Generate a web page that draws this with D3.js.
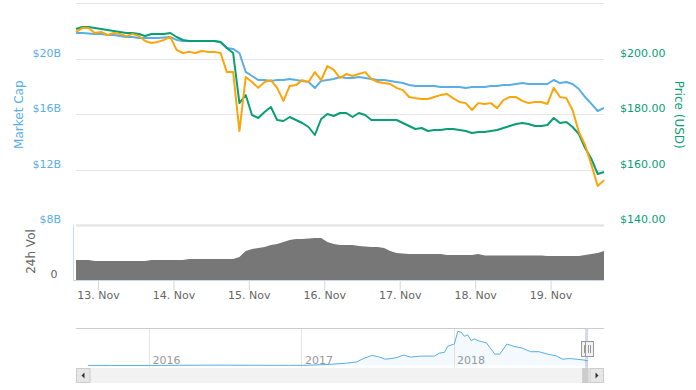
<!DOCTYPE html>
<html><head><meta charset="utf-8">
<script src="https://cdn.jsdelivr.net/npm/d3@7"></script>
<style>
html,body{margin:0;padding:0;background:#fff;}
svg{display:block;font-family:"DejaVu Sans",Verdana,sans-serif;}
</style>
</head><body>
<svg id="chart" width="696" height="390"></svg>
<script>
// ---------------- data ----------------
const startTime = "2018-11-12T17:00:00Z";
const stepHours = 2;
const marketCapB = [21.86,21.86,21.83,21.79,21.79,21.72,21.72,21.65,21.57,21.57,
 21.50,21.50,21.50,21.50,21.54,21.57,21.36,21.29,21.29,21.29,
 21.29,21.29,21.29,21.21,20.78,20.71,20.42,19.05,18.76,18.47,
 18.47,18.40,18.47,18.47,18.54,18.47,18.40,18.32,17.89,18.40,
 18.47,18.54,18.69,18.61,18.61,18.69,18.61,18.54,18.47,18.47,
 18.40,18.32,18.25,18.11,18.04,18.04,18.04,18.04,17.96,17.96,
 17.96,17.96,17.89,17.96,17.96,17.96,18.04,18.04,18.11,18.11,
 18.18,18.25,18.18,18.18,18.18,18.18,18.47,18.25,18.32,18.18,
 17.82,17.24,16.74,16.23,16.45];
const priceUSD = [210.76,211.48,211.48,211.12,210.76,210.40,210.04,209.68,209.31,209.31,
 208.95,208.23,208.95,208.95,208.95,209.31,207.87,206.79,206.43,206.43,
 206.43,206.43,206.43,206.06,203.90,202.09,184.04,186.93,179.71,178.63,
 180.79,182.60,177.91,177.55,178.99,177.91,176.82,175.38,172.49,178.27,
 180.07,179.35,180.43,180.43,178.99,180.43,179.71,177.91,177.91,177.91,
 177.91,177.91,176.82,175.74,174.66,175.02,173.94,174.30,174.30,174.66,
 174.66,174.30,173.94,173.21,173.57,173.57,173.94,174.30,175.02,175.74,
 176.46,176.82,176.46,175.74,175.74,176.10,178.63,176.82,177.18,175.38,
 172.85,167.80,163.83,158.41,159.13];
const priceBTC = [0.03297,0.03311,0.03311,0.03293,0.03297,0.03286,0.03293,0.03290,0.03282,0.03290,
 0.03282,0.03264,0.03257,0.03261,0.03268,0.03279,0.03232,0.03221,0.03225,0.03221,
 0.03228,0.03225,0.03225,0.03221,0.03152,0.03152,0.02939,0.03134,0.03116,0.03095,
 0.03116,0.03123,0.03095,0.03048,0.03102,0.03105,0.03123,0.03116,0.03152,0.03123,
 0.03174,0.03160,0.03131,0.03145,0.03138,0.03145,0.03152,0.03127,0.03116,0.03113,
 0.03109,0.03095,0.03087,0.03062,0.03058,0.03055,0.03055,0.03062,0.03069,0.03073,
 0.03058,0.03044,0.03040,0.03015,0.03040,0.03037,0.03040,0.03022,0.03051,0.03062,
 0.03062,0.03048,0.03040,0.03044,0.03044,0.03037,0.03095,0.03062,0.03058,0.03015,
 0.02936,0.02889,0.02817,0.02741,0.02762];
const volume24hB = [1.15,1.15,1.15,1.10,1.10,1.10,1.10,1.10,1.10,1.10,
 1.10,1.10,1.15,1.15,1.15,1.15,1.15,1.15,1.21,1.21,
 1.21,1.21,1.21,1.21,1.21,1.21,1.33,1.67,1.79,1.85,
 1.90,2.02,2.08,2.19,2.31,2.37,2.37,2.39,2.42,2.42,
 2.19,2.08,2.02,2.02,2.02,1.96,1.93,1.90,1.90,1.85,
 1.67,1.56,1.53,1.50,1.50,1.50,1.50,1.50,1.50,1.44,
 1.44,1.44,1.44,1.44,1.50,1.41,1.41,1.41,1.41,1.41,
 1.41,1.41,1.41,1.41,1.41,1.38,1.38,1.38,1.38,1.38,
 1.38,1.44,1.50,1.56,1.67];
const marketCapTicks = [8,12,16,20,24];
const marketCapLabels = [8,12,16,20];
const priceTicks = [140,160,180,200];
const volumeTicks = [0];
const navDates = ["2015-08-08","2015-10-01","2016-01-01","2016-03-15","2016-06-15","2016-09-01","2016-12-01",
 "2017-01-15","2017-03-09","2017-04-19","2017-05-14","2017-05-30","2017-06-19","2017-07-05","2017-07-21",
 "2017-08-06","2017-08-18","2017-09-03","2017-09-20","2017-10-14","2017-11-16","2017-11-28","2017-12-10",
 "2017-12-18","2017-12-26","2018-01-03","2018-01-11","2018-01-19","2018-01-27","2018-02-04","2018-02-12",
 "2018-02-20","2018-03-01","2018-03-09","2018-03-21","2018-04-10","2018-04-22","2018-05-09","2018-05-25",
 "2018-06-14","2018-07-05","2018-07-25","2018-08-14","2018-09-04","2018-09-20","2018-10-06","2018-10-22",
 "2018-11-10","2018-11-19"];
const navMarketCapB = [0.2,0.07,0.07,0.9,1.5,1.0,0.7,
 0.9,4.5,9.2,14.4,28,40.4,34.8,25.2,
 28,32,41.6,33.6,37.6,37.6,49.6,52.4,
 76.8,82,86,136,133.6,117,122.8,99.6,
 106.4,99.6,95.6,90.4,45.6,45.6,86,76.8,
 70,55.2,55.2,45.6,38.8,25.2,28,25.2,
 22,18.7];
const navYearTicks = ["2016-01-01","2017-01-01","2018-01-01"];

// ---------------- setup ----------------
const C_BLUE = "#5aaee6", C_GREEN = "#0a9e73", C_ORANGE = "#fca50a";
const svg = d3.select("#chart");
const t0 = new Date(startTime);
const times = marketCapB.map((_, i) => new Date(+t0 + i * stepHours * 3600e3));
const tEnd = times[times.length - 1];

const L = 76, R = 604;
const x = d3.scaleUtc().domain([t0, tEnd]).range([L, R]);
const yMC = d3.scaleLinear().domain([8, 24]).range([225, 3.4]);
const yUSD = d3.scaleLinear().domain([140, 220]).range([225, 3.4]);
const yBTC = d3.scaleLinear().domain([0.026, 0.034]).range([225, 3.4]);
const yVol = d3.scaleLinear().domain([0, 3]).range([280, 228]);

// gridlines
svg.append("g").selectAll("line").data(marketCapTicks.slice(1)).join("line")
  .attr("x1", L).attr("x2", R)
  .attr("y1", d => Math.round(yMC(d)) + 0.5).attr("y2", d => Math.round(yMC(d)) + 0.5)
  .attr("stroke", "#e6e6e6").attr("stroke-width", 1);
svg.append("line").attr("x1", L).attr("x2", R).attr("y1", 225.5).attr("y2", 225.5)
  .attr("stroke", "#e6e6e6").attr("stroke-width", 2.5);

// left axis (market cap)
const axL = svg.append("g").attr("transform", `translate(${L},0)`)
  .call(d3.axisLeft(yMC).tickValues(marketCapLabels).tickSize(0).tickPadding(15).tickFormat(d => "$" + d + "B"));
axL.select(".domain").remove();
axL.selectAll("text").attr("dy", -2.6).attr("fill", C_BLUE).attr("font-size", 11).attr("font-family", "DejaVu Sans");

// right axis (price)
const axR = svg.append("g").attr("transform", `translate(${R},0)`)
  .call(d3.axisRight(yUSD).tickValues(priceTicks).tickSize(0).tickPadding(16).tickFormat(d => "$" + d3.format(".2f")(d)));
axR.select(".domain").remove();
axR.selectAll("text").attr("dy", -2.6).attr("fill", C_GREEN).attr("font-size", 11).attr("font-family", "DejaVu Sans");

// axis titles
svg.append("text").attr("transform", "translate(23,114.7) rotate(-90)").attr("text-anchor", "middle")
  .attr("fill", C_BLUE).attr("font-size", 12).text("Market Cap");
svg.append("text").attr("transform", "translate(675,114.7) rotate(90)").attr("text-anchor", "middle")
  .attr("fill", C_GREEN).attr("font-size", 12).text("Price (USD)");
svg.append("text").attr("transform", "translate(35,251.5) rotate(-90)").attr("text-anchor", "middle")
  .attr("fill", "#666").attr("font-size", 12).text("24h Vol");

// volume pane
svg.append("path").datum(volume24hB)
  .attr("d", d3.area().x((d, i) => x(times[i])).y0(yVol(0)).y1(d => yVol(d)))
  .attr("fill", "#777777");
svg.append("line").attr("x1", 73.5).attr("x2", 73.5).attr("y1", 225).attr("y2", 280)
  .attr("stroke", "#ccd6eb");
const axV = svg.append("g").attr("transform", "translate(73,0)")
  .call(d3.axisLeft(yVol).tickValues(volumeTicks).tickSize(0).tickPadding(15.5).tickFormat(d => d));
axV.select(".domain").remove();
axV.selectAll("text").attr("dy", -3).attr("fill", "#666").attr("font-size", 11).attr("font-family", "DejaVu Sans");

// x axis
svg.append("line").attr("x1", 73).attr("x2", R).attr("y1", 280.5).attr("y2", 280.5).attr("stroke", "#ccd6eb");
const axX = svg.append("g").attr("transform", "translate(0,280.5)")
  .call(d3.axisBottom(x).ticks(d3.utcDay.every(1)).tickSize(10).tickPadding(1).tickFormat(d3.utcFormat("%d. %b")));
axX.select(".domain").remove();
axX.selectAll("line").attr("stroke", "#ccd6eb");
axX.selectAll("text").attr("fill", "#666").attr("font-size", 11).attr("font-family", "DejaVu Sans");

// price lines
const mk = (scale) => d3.line().x((d, i) => x(times[i])).y(d => scale(d));
svg.append("path").datum(marketCapB).attr("d", mk(yMC)).attr("fill", "none")
  .attr("stroke", C_BLUE).attr("stroke-width", 2).attr("stroke-linejoin", "round");
svg.append("path").datum(priceUSD).attr("d", mk(yUSD)).attr("fill", "none")
  .attr("stroke", C_GREEN).attr("stroke-width", 2).attr("stroke-linejoin", "round");
svg.append("path").datum(priceBTC).attr("d", mk(yBTC)).attr("fill", "none")
  .attr("stroke", C_ORANGE).attr("stroke-width", 2).attr("stroke-linejoin", "round");

// ---------------- navigator ----------------
const navTop = 328, navBottom = 368;
const navX = d3.scaleUtc().domain([new Date("2015-07-10"), new Date("2018-12-28")]).range([L, R]);
const navY = d3.scaleLinear().domain([0, 150]).range([365.5, navTop]);
const nd = navDates.map(d => new Date(d));

svg.append("g").selectAll("line").data(navYearTicks.map(d => new Date(d))).join("line")
  .attr("x1", d => Math.round(navX(d)) + 0.5).attr("x2", d => Math.round(navX(d)) + 0.5)
  .attr("y1", navTop).attr("y2", navBottom).attr("stroke", "#e6e6e6");
svg.append("g").selectAll("text").data(navYearTicks.map(d => new Date(d))).join("text")
  .attr("x", d => navX(d) + 3.5).attr("y", 364).attr("fill", "#999").attr("font-size", 11)
  .text(d3.utcFormat("%Y"));

svg.append("path").datum(navMarketCapB)
  .attr("d", d3.area().x((d, i) => navX(nd[i])).y0(navY(0)).y1(d => navY(d)))
  .attr("fill", "rgba(90,174,230,0.07)");
svg.append("path").datum(navMarketCapB)
  .attr("d", d3.line().x((d, i) => navX(nd[i])).y(d => navY(d)))
  .attr("fill", "none").attr("stroke", C_BLUE).attr("stroke-width", 1);

// mask over selected range
const mx0 = navX(t0), mx1 = navX(tEnd);
svg.append("rect").attr("x", mx0).attr("y", navTop).attr("width", Math.max(1, mx1 - mx0)).attr("height", navBottom - navTop)
  .attr("fill", "rgba(102,133,194,0.3)");
svg.append("line").attr("x1", L).attr("x2", R).attr("y1", navTop + 0.5).attr("y2", navTop + 0.5)
  .attr("stroke", "#cccccc");

// scrollbar
const sbY = 368, sbH = 15;
svg.append("rect").attr("x", L).attr("y", sbY).attr("width", R - L).attr("height", sbH).attr("fill", "#f2f2f2");
svg.append("rect").attr("x", mx0 - 3).attr("y", sbY).attr("width", 6.5).attr("height", sbH).attr("fill", "#cccccc");
svg.append("rect").attr("x", L + 0.5).attr("y", sbY + 0.5).attr("width", 13.5).attr("height", sbH - 1)
  .attr("fill", "#e6e6e6").attr("stroke", "#cccccc");
svg.append("rect").attr("x", R - 14).attr("y", sbY + 0.5).attr("width", 13.5).attr("height", sbH - 1)
  .attr("fill", "#e6e6e6").attr("stroke", "#cccccc");
svg.append("path").attr("d", `M${L + 5.5},${sbY + 7.5} L${L + 8.5},${sbY + 4.5} L${L + 8.5},${sbY + 10.5} Z`).attr("fill", "#333");
svg.append("path").attr("d", `M${R - 5.5},${sbY + 7.5} L${R - 8.5},${sbY + 4.5} L${R - 8.5},${sbY + 10.5} Z`).attr("fill", "#333");

// handles
const hy = navTop + (navBottom - navTop - 15) / 2;
[[mx0 - 4.5], [mx1 - 3.5]].forEach(([hx]) => {
  const g = svg.append("g").attr("transform", `translate(${Math.round(hx) + 0.5},${Math.round(hy) + 0.5})`);
  g.append("rect").attr("width", 8).attr("height", 15).attr("fill", "#f2f2f2").attr("stroke", "#999");
  g.append("line").attr("x1", 3).attr("x2", 3).attr("y1", 3.5).attr("y2", 11.5).attr("stroke", "#999");
  g.append("line").attr("x1", 5).attr("x2", 5).attr("y1", 3.5).attr("y2", 11.5).attr("stroke", "#999");
});
</script>
</body></html>
